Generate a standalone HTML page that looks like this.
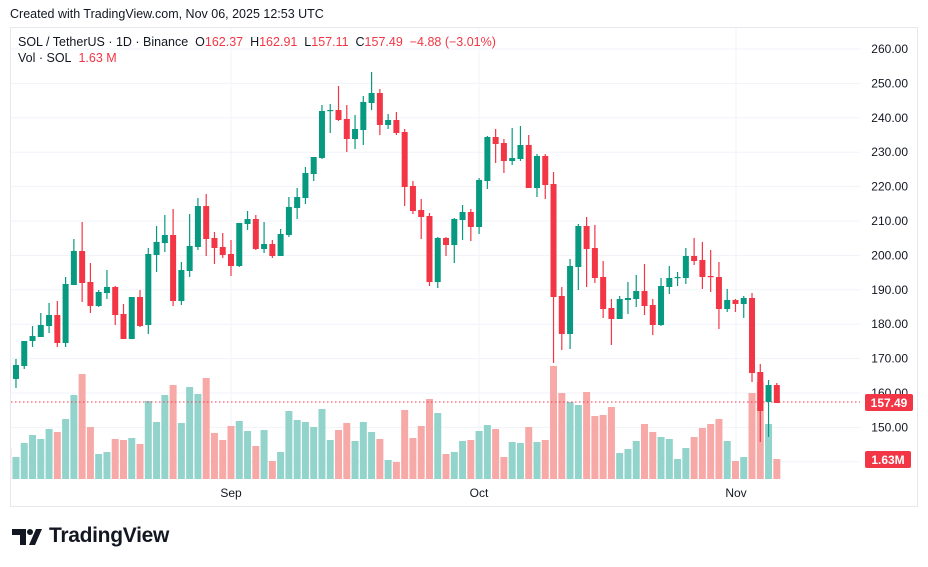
<!DOCTYPE html>
<html><head><meta charset="utf-8">
<style>
html,body{margin:0;padding:0;background:#fff;}
body{width:928px;height:567px;position:relative;overflow:hidden;font-family:"Liberation Sans",sans-serif;color:#131722;}
.t{position:absolute;white-space:nowrap;}
.r{color:#f23645;}
</style></head><body>
<div class="t" style="left:10px;top:7px;font-size:12.5px;">Created with TradingView.com, Nov 06, 2025 12:53 UTC</div>
<svg id="s" width="928" height="567" style="position:absolute;left:0;top:0" xmlns="http://www.w3.org/2000/svg"></svg>
<div class="t" style="left:18px;top:35px;font-size:12.5px;">SOL / TetherUS · 1D · Binance&nbsp; O<span class="r">162.37</span>&nbsp; H<span class="r">162.91</span>&nbsp; L<span class="r">157.11</span>&nbsp; C<span class="r">157.49</span>&nbsp; <span class="r">−4.88 (−3.01%)</span></div>
<div class="t" style="left:18px;top:51px;font-size:12.5px;">Vol · SOL&nbsp; <span class="r">1.63 M</span></div>
<div class="t" style="left:49px;top:524px;font-size:21px;font-weight:bold;color:#131722;letter-spacing:-0.3px;">TradingView</div>
<script>
var NS="http://www.w3.org/2000/svg",s=document.getElementById('s');
function el(n,a){var e=document.createElementNS(NS,n);for(var k in a)e.setAttribute(k,a[k]);s.appendChild(e);return e;}
function tx(x,y,t,a){var e=el('text',Object.assign({x:x,y:y,'font-family':'Liberation Sans, sans-serif','font-size':12,fill:'#131722'},a||{}));e.textContent=t;return e;}
// panel border
el('rect',{x:10.5,y:27.5,width:907,height:479,fill:'#fff',stroke:'#e6e8ee'});
// grid
for(var k=0;k<13;k++){var y=49+34.4*k;el('line',{x1:11,x2:860,y1:y,y2:y,stroke:'#f0f3fa'});}
[231,479,736].forEach(function(x){el('line',{x1:x,x2:x,y1:28,y2:480,stroke:'#f0f3fa'});});
var labs=['260.00','250.00','240.00','230.00','220.00','210.00','200.00','190.00','180.00','170.00','160.00','150.00'];
labs.forEach(function(l,i){tx(908,53+34.4*i,l,{'text-anchor':'end'});});
tx(231,497,'Sep',{'text-anchor':'middle'});tx(479,497,'Oct',{'text-anchor':'middle'});tx(736,497,'Nov',{'text-anchor':'middle'});
var d=[[360,380,355,385,448,0],[379,365,359,388,457,1],[366,341,341,369,443,1],[341,336,326,347,435,1],[337,325,313,337,439,1],[326,315,303,333,429,1],[315,343,301,347,432,0],[343,284,277,347,419,1],[285,251,239,285,395,1],[251,283,222,302,374,0],[282,306,263,313,427,0],[306,292,290,307,454,1],[293,287,270,299,452,1],[287,315,286,325,439,0],[314,339,304,339,440,0],[339,297,297,339,438,1],[297,326,290,327,444,0],[325,254,248,334,401,1],[255,242,226,272,422,1],[243,235,215,252,395,1],[235,301,209,306,385,0],[301,270,262,305,423,1],[271,246,214,277,387,1],[247,206,198,250,394,1],[206,239,194,256,378,0],[238,248,232,264,433,0],[247,255,233,258,440,0],[254,266,240,276,426,0],[266,223,223,267,421,1],[224,219,211,230,431,1],[219,249,215,250,446,0],[249,244,222,253,430,1],[244,256,240,258,461,0],[256,234,229,256,452,1],[235,207,197,237,411,1],[208,197,188,219,420,1],[198,173,167,204,422,1],[174,157,157,181,427,1],[158,111,105,159,409,1],[110.5,110,104,133,440,1],[110,120,86,121,430,0],[119,139,105,152,423,0],[139,129,115,149,441,1],[130,102,96,145,422,1],[103,93,72,110,432,1],[93,125,89,135,439,0],[125,120,114,129,460,1],[120,133,112,135,462,0],[132,187,129,206,410,0],[186,211,181,214,438,0],[210,217,199,239,426,0],[216,282,213,286,399,0],[282,238,237,288,413,1],[238,245,237,256,454,0],[245,219,218,263,452,1],[220,212,205,240,441,1],[212,227,209,241,440,0],[227,180,178,234,431,1],[181,137,136,189,425,1],[137,144,129,163,429,0],[143,161,139,173,457,0],[161,158,128,165,442,1],[159,145,126,161,443,1],[145,188,135,188,427,0],[188,156,154,197,442,1],[156,185,154,199,440,0],[184,297,172,363,366,0],[296,334,287,350,393,0],[334,266,259,349,402,1],[267,226,224,290,405,1],[226,249,217,287,392,0],[248,278,225,283,416,0],[277,309,261,318,415,0],[308,319,299,345,407,0],[319,299,296,319,453,1],[300,298,282,314,449,1],[299,291,275,307,441,1],[291,306,264,315,424,0],[305,325,299,335,432,0],[325,286,278,326,437,1],[287,278,266,294,439,1],[277.5,277,272,286,459,1],[278,256,248,284,448,1],[256,261,238,265,437,0],[260,277,242,289,428,0],[276,276.5,250,292,424,0],[277,309,262,329,419,0],[309,300,289,312,441,1],[300,304,299,312,461,0],[304,298,296,318,457,1],[298,373,293,382,393,0],[372,411,364,442,382,0],[402,385,380,437,424,1],[385,403,383,403,459,0]];
el('clipPath',{id:'c'});var cp=s.lastChild;var cr=document.createElementNS(NS,'rect');cr.setAttribute('x',11);cr.setAttribute('y',28);cr.setAttribute('width',849);cr.setAttribute('height',452);cp.appendChild(cr);
var g=el('g',{'clip-path':'url(#c)'});
function ap(n,a){var e=document.createElementNS(NS,n);for(var k in a)e.setAttribute(k,a[k]);g.appendChild(e);}
d.forEach(function(c,i){var x=231+(i-27)*8.27;ap('rect',{x:x-3.5,y:c[4],width:7,height:479-c[4],fill:c[5]?'#92d3cb':'#f7a9a8'});});
ap('line',{x1:11,x2:862,y1:402,y2:402,stroke:'#f23645','stroke-width':1,'stroke-dasharray':'1.5 2.5'});
d.forEach(function(c,i){var x=231+(i-27)*8.27,col=c[5]?'#089981':'#f23645';
ap('line',{x1:x,x2:x,y1:c[2],y2:c[3],stroke:col,'stroke-width':1.2});
var t=Math.min(c[0],c[1]),h=Math.max(Math.abs(c[0]-c[1]),1.2);ap('rect',{x:x-3,y:t,width:6,height:h,fill:col});});
el('rect',{x:865,y:394,width:48,height:17,rx:2,fill:'#f23645'});
tx(889,407,'157.49',{'text-anchor':'middle',fill:'#fff','font-weight':'bold'});
el('rect',{x:865,y:451,width:46,height:17,rx:2,fill:'#f23645'});
tx(888,464,'1.63M',{'text-anchor':'middle',fill:'#fff','font-weight':'bold'});
// logo
el('path',{d:'M12 529 H26 V545 H20 V535 H12 Z',fill:'#131722'});
el('circle',{cx:30,cy:532,r:3,fill:'#131722'});
el('path',{d:'M36 529 H42 L35 545 H29 Z',fill:'#131722'});
</script>
</body></html>
